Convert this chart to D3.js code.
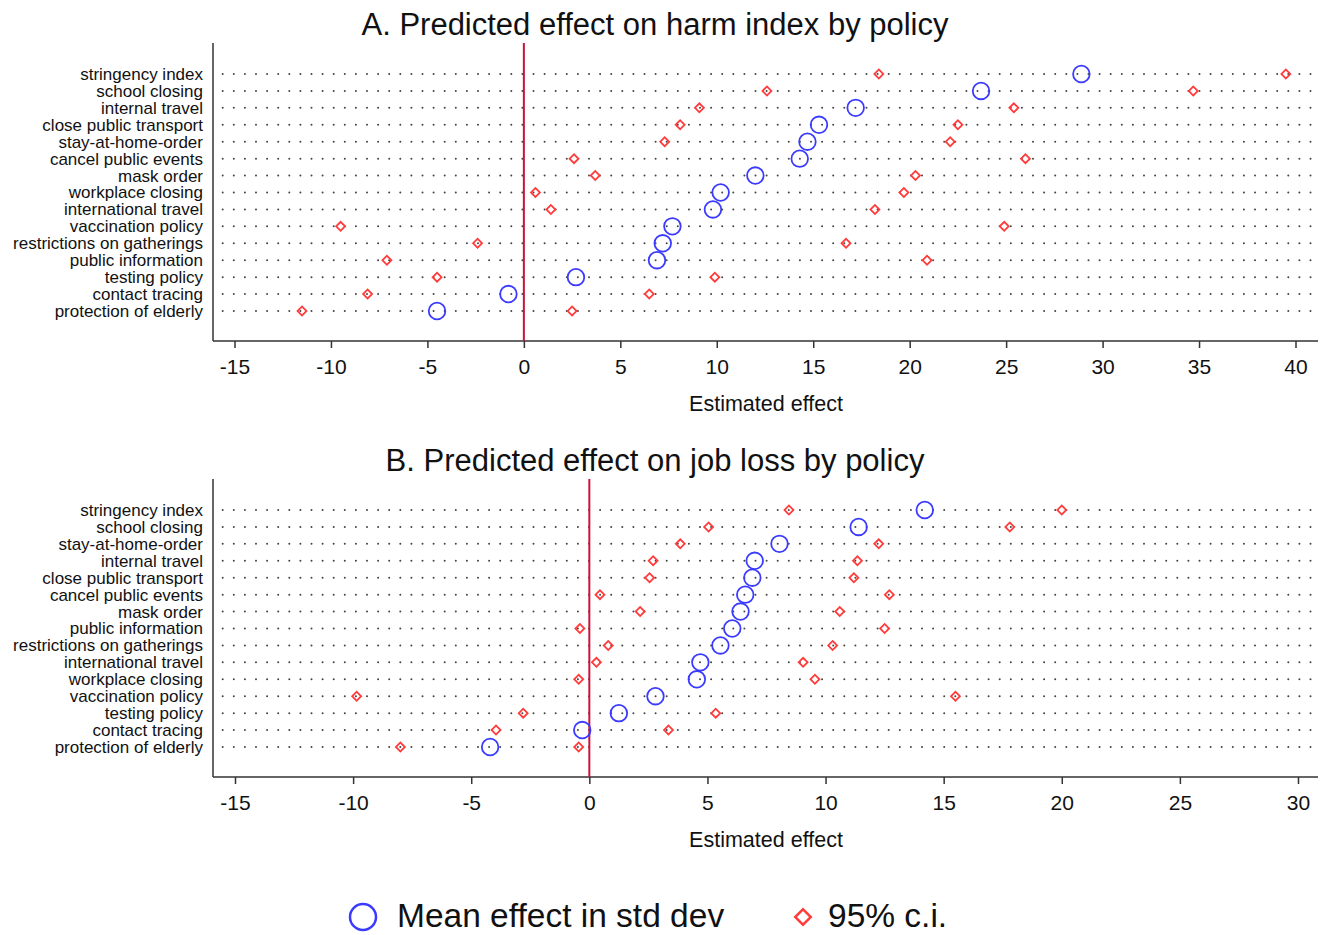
<!DOCTYPE html>
<meta charset="utf-8">
<style>
    body { margin: 0; background: #fff; }
    text { font-family: "Liberation Sans", Arial, sans-serif; fill: #111; }
</style>
<body>
<svg id="chart" width="1323" height="935"></svg>
<script src="https://d3js.org/d3.v7.min.js"></script>
<script>
// Panel A: harm index
var harmLabels = ["stringency index", "school closing", "internal travel", "close public transport",
    "stay-at-home-order", "cancel public events", "mask order", "workplace closing", "international travel",
    "vaccination policy", "restrictions on gatherings", "public information", "testing policy",
    "contact tracing", "protection of elderly"];
var harmMean = [28.9, 23.7, 17.2, 15.3, 14.7, 14.3, 12.0, 10.2, 9.8, 7.7, 7.2, 6.9, 2.7, -0.8, -4.5];
var harmLow = [18.4, 12.6, 9.1, 8.1, 7.3, 2.6, 3.7, 0.6, 1.4, -9.5, -2.4, -7.1, -4.5, -8.1, -11.5];
var harmHigh = [39.5, 34.7, 25.4, 22.5, 22.1, 26.0, 20.3, 19.7, 18.2, 24.9, 16.7, 20.9, 9.9, 6.5, 2.5];
var harmTicks = [-15, -10, -5, 0, 5, 10, 15, 20, 25, 30, 35, 40];

// Panel B: job loss
var jobLabels = ["stringency index", "school closing", "stay-at-home-order", "internal travel",
    "close public transport", "cancel public events", "mask order", "public information",
    "restrictions on gatherings", "international travel", "workplace closing", "vaccination policy",
    "testing policy", "contact tracing", "protection of elderly"];
var jobMean = [14.2, 11.4, 8.05, 7.0, 6.9, 6.6, 6.4, 6.05, 5.55, 4.7, 4.55, 2.8, 1.25, -0.3, -4.2];
var jobLow = [8.45, 5.05, 3.85, 2.7, 2.55, 0.45, 2.15, -0.4, 0.8, 0.3, -0.45, -9.85, -2.8, -3.95, -8.0];
var jobHigh = [20.0, 17.8, 12.25, 11.35, 11.2, 12.7, 10.6, 12.5, 10.3, 9.05, 9.55, 15.5, 5.35, 3.35, -0.45];
var jobTicks = [-15, -10, -5, 0, 5, 10, 15, 20, 25, 30];

var svg = d3.select("#chart");
svg.append("rect").attr("width", 1323).attr("height", 935).attr("fill", "#fff");

var left = 213, right = 1318;

function drawPanel(p) {
    var g = svg.append("g");
    var x = d3.scaleLinear().domain(p.domain).range(p.xrange);
    var y = d3.scalePoint().domain(p.labels).range([p.top + 31, p.bottom - 30]);

    g.append("text")
        .attr("x", 655).attr("y", p.top - 8)
        .attr("text-anchor", "middle")
        .style("font-size", "31px")
        .text(p.title);

    // dotted row lines
    g.selectAll(".row").data(p.labels).enter().append("line")
        .attr("x1", 222.7).attr("x2", 1313)
        .attr("y1", function (d) { return y(d); })
        .attr("y2", function (d) { return y(d); })
        .attr("stroke", "#444")
        .attr("stroke-width", 2)
        .attr("stroke-linecap", "round")
        .attr("stroke-dasharray", "0 11.1");

    g.selectAll(".lab").data(p.labels).enter().append("text")
        .attr("x", 203)
        .attr("y", function (d) { return y(d); })
        .attr("dy", "0.35em")
        .attr("text-anchor", "end")
        .style("font-size", "17px")
        .text(function (d) { return d; });

    // axes
    g.append("line").attr("x1", left).attr("x2", left)
        .attr("y1", p.top).attr("y2", p.bottom)
        .attr("stroke", "#333").attr("stroke-width", 1.5);
    g.append("line").attr("x1", left).attr("x2", right)
        .attr("y1", p.bottom).attr("y2", p.bottom)
        .attr("stroke", "#333").attr("stroke-width", 1.5);

    var ax = g.append("g").attr("transform", "translate(0," + p.bottom + ")")
        .call(d3.axisBottom(x).tickValues(p.ticks).tickSize(7).tickPadding(11)
            .tickFormat(function (d) { return String(d); }));
    ax.select(".domain").remove();
    ax.selectAll("line").attr("stroke", "#333").attr("stroke-width", 1.5);
    ax.selectAll("text").style("font-size", "21px").attr("fill", "#111")
        .style("font-family", "'Liberation Sans', Arial, sans-serif");

    g.append("text")
        .attr("x", 766).attr("y", p.bottom + 70)
        .attr("text-anchor", "middle")
        .style("font-size", "21.5px")
        .text("Estimated effect");

    // zero line
    g.append("line")
        .attr("x1", x(0)).attr("x2", x(0))
        .attr("y1", p.top).attr("y2", p.bottom)
        .attr("stroke", "#c8143c").attr("stroke-width", 2);

    var diamond = d3.symbol().type(d3.symbolSquare).size(40);
    var ci = p.labels.map(function (d, i) { return { label: d, v: p.low[i] }; })
        .concat(p.labels.map(function (d, i) { return { label: d, v: p.high[i] }; }));
    g.selectAll(".ci").data(ci).enter().append("path")
        .attr("d", diamond)
        .attr("transform", function (d) {
            return "translate(" + x(d.v) + "," + y(d.label) + ") rotate(45)";
        })
        .attr("fill", "none")
        .attr("stroke", "#ff3b3b")
        .attr("stroke-width", 1.8);

    g.selectAll(".mean").data(p.labels).enter().append("circle")
        .attr("cx", function (d, i) { return x(p.mean[i]); })
        .attr("cy", function (d) { return y(d); })
        .attr("r", 8.3)
        .attr("fill", "none")
        .attr("stroke", "#3b3bff")
        .attr("stroke-width", 1.8);
}

drawPanel({
    title: "A. Predicted effect on harm index by policy",
    labels: harmLabels, mean: harmMean, low: harmLow, high: harmHigh, ticks: harmTicks,
    domain: [-15, 40], xrange: [234.5, 1295.5], top: 43, bottom: 341
});
drawPanel({
    title: "B. Predicted effect on job loss by policy",
    labels: jobLabels, mean: jobMean, low: jobLow, high: jobHigh, ticks: jobTicks,
    domain: [-15, 30], xrange: [235, 1298], top: 479, bottom: 777
});

// legend
var leg = svg.append("g");
leg.append("circle").attr("cx", 363).attr("cy", 917).attr("r", 13)
    .attr("fill", "none").attr("stroke", "#3b3bff").attr("stroke-width", 2.5);
leg.append("text").attr("x", 397).attr("y", 927).style("font-size", "33.5px").text("Mean effect in std dev");
leg.append("path").attr("d", d3.symbol().type(d3.symbolSquare).size(120))
    .attr("transform", "translate(803,917) rotate(45)")
    .attr("fill", "none").attr("stroke", "#ff3b3b").attr("stroke-width", 2.5);
leg.append("text").attr("x", 828).attr("y", 927).style("font-size", "33.5px").text("95% c.i.");
</script>
</body>
